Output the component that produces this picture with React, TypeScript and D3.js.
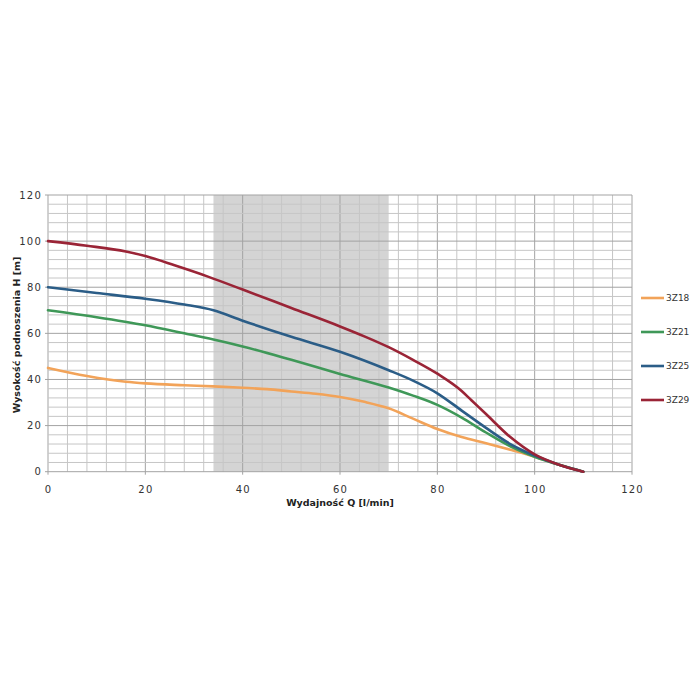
import React from "react";
import * as d3 from "d3";

type Pt = [number, number];

const seriesNames = ["3Z18", "3Z21", "3Z25", "3Z29"];
const seriesColors = ["#f2a359", "#3f9858", "#2b5d87", "#9a2436"];

const s3Z18: Pt[] = [[0,45],[8,41.5],[16,39],[20,38.3],[28,37.5],[34,37],[40,36.4],[45,35.8],[50,34.8],[55,33.8],[60,32.4],[65,30.3],[70,27.5],[75,23],[80,18.5],[85,15],[90,12.3],[95,9.5],[100,6.5],[105,3],[110,0]];
const s3Z21: Pt[] = [[0,70],[10,67],[20,63.5],[28,60],[34,57.3],[40,54.3],[50,48.5],[60,42.4],[70,36.5],[75,33],[80,29],[85,23.5],[90,17],[95,11],[100,6.5],[105,3],[110,0]];
const s3Z25: Pt[] = [[0,80],[10,77.5],[20,75],[28,72.5],[34,70],[40,65.5],[50,58.5],[60,52],[70,44],[75,39.5],[80,34],[85,26.5],[90,19],[95,12],[100,7],[105,3],[110,0]];
const s3Z29: Pt[] = [[0,100],[8,98],[16,95.5],[20,93.5],[26,89.5],[33,84.5],[40,79],[50,71],[60,63],[65,58.7],[70,54],[75,48.5],[80,42.5],[85,35],[87,31],[90,25],[95,15],[100,7.5],[105,3],[110,0]];
const seriesData = [s3Z18, s3Z21, s3Z25, s3Z29];

const xTicks = [0, 20, 40, 60, 80, 100, 120];
const yTicks = [0, 20, 40, 60, 80, 100, 120];
const shadeRange = [34, 70];

const FONT = "'DejaVu Sans', Verdana, sans-serif";

export default function App() {
  const left = 48, right = 632, top = 195, bottom = 471.7;
  const x = d3.scaleLinear().domain([0, 120]).range([left, right]);
  const y = d3.scaleLinear().domain([0, 120]).range([bottom, top]);
  const minor = d3.range(0, 121, 4);
  const line = d3.line<Pt>().x(d => x(d[0])).y(d => y(d[1])).curve(d3.curveMonotoneX);

  return (
    <svg width={700} height={700} style={{ display: "block", position: "absolute", left: 0, top: 0 }}>
      <rect width={700} height={700} fill="#fff" />
      <rect x={x(shadeRange[0])} y={top} width={x(shadeRange[1]) - x(shadeRange[0])} height={bottom - top} fill="#d4d4d4" />
      {minor.map(v => (
        <line key={"mx" + v} x1={x(v)} x2={x(v)} y1={top} y2={bottom + (v % 20 === 0 ? 3 : 0)} stroke={v % 20 === 0 ? "#a3a3a3" : "#c6c6c6"} strokeWidth={1} />
      ))}
      {minor.map(v => (
        <line key={"my" + v} x1={left - (v % 20 === 0 ? 3 : 0)} x2={right} y1={y(v)} y2={y(v)} stroke={v % 20 === 0 ? "#a3a3a3" : "#c6c6c6"} strokeWidth={1} />
      ))}
      {seriesData.map((d, i) => (
        <path key={seriesNames[i]} d={line(d) || ""} fill="none" stroke={seriesColors[i]} strokeWidth={2.6} strokeLinejoin="round" strokeLinecap="round" />
      ))}
      {yTicks.map(v => (
        <text key={"yt" + v} x={42} y={y(v)} dy="0.36em" textAnchor="end" fontFamily={FONT} fontSize={10} letterSpacing={1.2} fill="#333">{v}</text>
      ))}
      {xTicks.map(v => (
        <text key={"xt" + v} x={x(v) + 0.6} y={489} dy="0.36em" textAnchor="middle" fontFamily={FONT} fontSize={10} letterSpacing={1.2} fill="#333">{v}</text>
      ))}
      <text x={340} y={503} dy="0.36em" textAnchor="middle" fontFamily={FONT} fontSize={9.5} fontWeight="bold" fill="#222">Wydajność Q [l/min]</text>
      <text transform={`translate(17,${335}) rotate(-90)`} textAnchor="middle" dy="0.36em" fontFamily={FONT} fontSize={9.5} fontWeight="bold" fill="#222">Wysokość podnoszenia H [m]</text>
      {seriesNames.map((n, i) => (
        <g key={"lg" + n} transform={`translate(0,${298 + i * 34})`}>
          <line x1={641} x2={664} y1={0} y2={0} stroke={seriesColors[i]} strokeWidth={2.6} />
          <text x={666} y={0} dy="0.36em" fontFamily={FONT} fontSize={9} fill="#333">{n}</text>
        </g>
      ))}
    </svg>
  );
}
